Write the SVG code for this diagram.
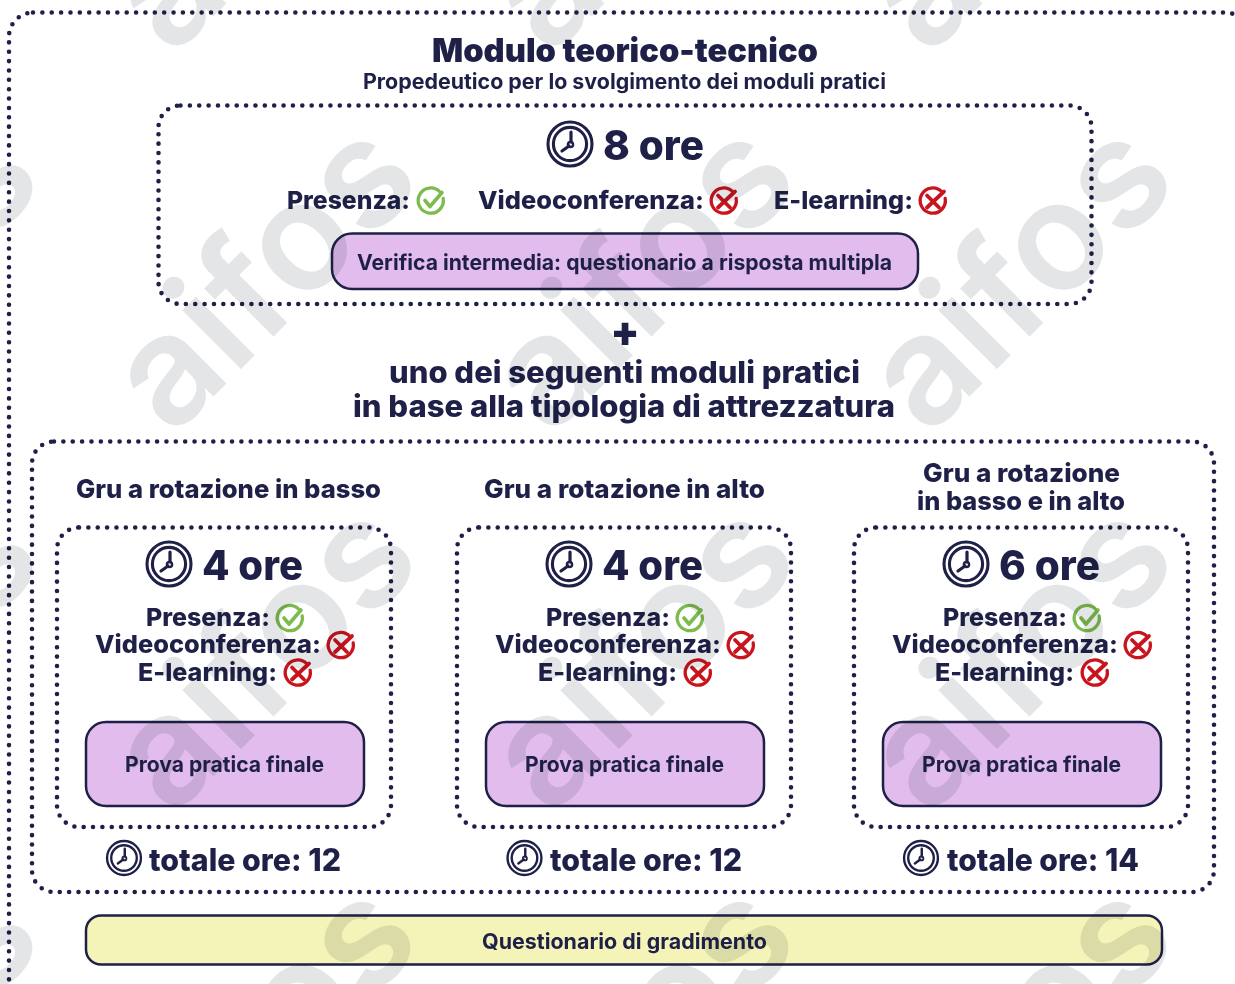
<svg xmlns="http://www.w3.org/2000/svg" width="1235" height="984" viewBox="0 0 1235 984">
<style>
text{font-family:"Inter","Liberation Sans",sans-serif;font-weight:800;fill:#1e2048}
.wm{font-size:152px;font-weight:600;fill:#e4e5e7;mix-blend-mode:multiply}
.dot{fill:none;stroke:#1e2048;stroke-width:4.6;stroke-linecap:round;stroke-dasharray:0 9.37}
.pill{fill:#e1bcec;stroke:#1e2048;stroke-width:2.5}
.yel{fill:#f5f4b8;stroke:#1e2048;stroke-width:2.5}
.m{font-size:25px}.h{font-size:41px;font-weight:800}.t{font-size:21.5px;font-weight:700}.g{font-size:26px}.tot{font-size:31px;font-weight:800}.s{font-size:30px}
.ik{fill:none;stroke-linecap:round;stroke-linejoin:round}
</style>
<defs>
<g id="clock" class="ik" stroke="#1e2048"><circle r="22" stroke-width="3.1"/><circle r="16.6" stroke-width="3.1"/><path d="M1 -2V-12M-1 2L-8 7" stroke-width="3.2"/><circle cx="0.5" cy="0.500" r="2.600" stroke-width="2.4"/></g>
<g id="ok" class="ik" stroke="#7dbb4f"><path d="M9 -9.500A12.600 12.600 0 1 0 12.200 -3" stroke-width="3.300"/><path d="M-6 -1L-1 5L11 -9" stroke-width="3.600"/></g>
<g id="no" class="ik" stroke="#c9141e"><path d="M9 -9.500A12.600 12.600 0 1 0 12.200 -3" stroke-width="3.300"/><path d="M-6 -6L6 6M-6 6L11 -10" stroke-width="3.800"/></g>
<text id="mark" class="wm" transform="rotate(-45)">aifos</text>
</defs>
<rect width="1235" height="984" fill="#fff"/>
<g id="frames">
<rect id="outer" class="dot" x="9" y="12.500" width="1240" height="1000" rx="24"/>
</g>
<g id="n-teorico">
<text x="625" y="62" text-anchor="middle" font-size="33" style="font-weight:900" textLength="386" lengthAdjust="spacingAndGlyphs">Modulo teorico-tecnico</text>
<text x="624.500" y="89" text-anchor="middle" font-size="21" style="font-weight:700" textLength="523" lengthAdjust="spacingAndGlyphs">Propedeutico per lo svolgimento dei moduli pratici</text>
<rect class="dot" x="158.500" y="105.500" width="933" height="198.500" rx="22"/>
<use href="#clock" x="570" y="144"/>
<text class="h" x="603" y="159.500" textLength="101" lengthAdjust="spacingAndGlyphs">8 ore</text>
<text class="m" x="287" y="208.500" textLength="123" lengthAdjust="spacingAndGlyphs">Presenza:</text><use href="#ok" x="431" y="201.500"/>
<text class="m" x="478" y="208.500" textLength="226" lengthAdjust="spacingAndGlyphs">Videoconferenza:</text><use href="#no" x="724" y="201.500"/>
<text class="m" x="774" y="208.500" textLength="139" lengthAdjust="spacingAndGlyphs">E-learning:</text><use href="#no" x="933" y="201.500"/>
<rect class="pill" x="332" y="233.500" width="586" height="55.500" rx="20"/>
<text class="t" x="357" y="270" textLength="535" lengthAdjust="spacingAndGlyphs">Verifica intermedia: questionario a risposta multipla</text>
</g>
<g id="n-plus">
<text x="625" y="346" text-anchor="middle" font-size="42" style="font-weight:900">+</text>
<text class="s" x="389" y="383" textLength="471" lengthAdjust="spacingAndGlyphs">uno dei seguenti moduli pratici</text>
<text class="s" x="353" y="417" textLength="542" lengthAdjust="spacingAndGlyphs">in base alla tipologia di attrezzatura</text>
</g>
<rect id="n-pratici" class="dot" x="32" y="441.500" width="1182" height="450.500" rx="22"/>
<g id="n-basso">
<text class="g" x="76" y="498" textLength="305" lengthAdjust="spacingAndGlyphs">Gru a rotazione in basso</text>
<rect class="dot" x="57" y="527.500" width="334" height="299.500" rx="22"/>
<use href="#clock" x="169" y="564"/>
<text class="h" x="202" y="580" textLength="101" lengthAdjust="spacingAndGlyphs">4 ore</text>
<text class="m" x="146" y="626" textLength="124" lengthAdjust="spacingAndGlyphs">Presenza:</text><use href="#ok" x="290" y="619"/>
<text class="m" x="95" y="653" textLength="226" lengthAdjust="spacingAndGlyphs">Videoconferenza:</text><use href="#no" x="341" y="646"/>
<text class="m" x="138" y="681" textLength="139" lengthAdjust="spacingAndGlyphs">E-learning:</text><use href="#no" x="298" y="673.500"/>
<rect class="pill" x="86" y="722" width="278" height="84" rx="20"/>
<text class="t" x="125" y="772" textLength="199" lengthAdjust="spacingAndGlyphs">Prova pratica finale</text>
<use href="#clock" transform="translate(124 858) scale(.77)"/>
<text class="tot" x="149" y="871" textLength="192" lengthAdjust="spacingAndGlyphs">totale ore: 12</text>
</g>
<g id="n-alto">
<text class="g" x="484" y="498" textLength="281" lengthAdjust="spacingAndGlyphs">Gru a rotazione in alto</text>
<rect class="dot" x="457" y="527.500" width="334" height="299.500" rx="22"/>
<use href="#clock" x="569" y="564"/>
<text class="h" x="602" y="580" textLength="101" lengthAdjust="spacingAndGlyphs">4 ore</text>
<text class="m" x="546" y="626" textLength="124" lengthAdjust="spacingAndGlyphs">Presenza:</text><use href="#ok" x="690" y="619"/>
<text class="m" x="495" y="653" textLength="226" lengthAdjust="spacingAndGlyphs">Videoconferenza:</text><use href="#no" x="741" y="646"/>
<text class="m" x="538" y="681" textLength="139" lengthAdjust="spacingAndGlyphs">E-learning:</text><use href="#no" x="698" y="673.500"/>
<rect class="pill" x="486" y="722" width="278" height="84" rx="20"/>
<text class="t" x="525" y="772" textLength="199" lengthAdjust="spacingAndGlyphs">Prova pratica finale</text>
<use href="#clock" transform="translate(524.500 858) scale(.77)"/>
<text class="tot" x="550" y="871" textLength="192" lengthAdjust="spacingAndGlyphs">totale ore: 12</text>
</g>
<g id="n-misto">
<text class="g" x="923" y="482" textLength="197" lengthAdjust="spacingAndGlyphs">Gru a rotazione</text>
<text class="g" x="917" y="510" textLength="208" lengthAdjust="spacingAndGlyphs">in basso e in alto</text>
<rect class="dot" x="854" y="527.500" width="334" height="299.500" rx="22"/>
<use href="#clock" x="966" y="564"/>
<text class="h" x="999" y="580" textLength="101" lengthAdjust="spacingAndGlyphs">6 ore</text>
<text class="m" x="943" y="626" textLength="124" lengthAdjust="spacingAndGlyphs">Presenza:</text><use href="#ok" x="1087" y="619"/>
<text class="m" x="892" y="653" textLength="226" lengthAdjust="spacingAndGlyphs">Videoconferenza:</text><use href="#no" x="1138" y="646"/>
<text class="m" x="935" y="681" textLength="139" lengthAdjust="spacingAndGlyphs">E-learning:</text><use href="#no" x="1095" y="673.500"/>
<rect class="pill" x="883" y="722" width="278" height="84" rx="20"/>
<text class="t" x="922" y="772" textLength="199" lengthAdjust="spacingAndGlyphs">Prova pratica finale</text>
<use href="#clock" transform="translate(921 858) scale(.77)"/>
<text class="tot" x="947" y="871" textLength="192" lengthAdjust="spacingAndGlyphs">totale ore: 14</text>
</g>
<g id="n-gradimento">
<rect class="yel" x="86" y="915.500" width="1076" height="49" rx="15"/>
<text class="t" x="482" y="949" textLength="285" lengthAdjust="spacingAndGlyphs">Questionario di gradimento</text>
</g>
<g id="watermark">
<use href="#mark" x="172" y="438"/><use href="#mark" x="550" y="438"/><use href="#mark" x="928" y="438"/>
<use href="#mark" x="172" y="58"/><use href="#mark" x="550" y="58"/><use href="#mark" x="928" y="58"/>
<use href="#mark" x="-206" y="438"/><use href="#mark" x="-206" y="58"/>
<use href="#mark" x="172" y="818"/><use href="#mark" x="550" y="818"/><use href="#mark" x="928" y="818"/><use href="#mark" x="-206" y="818"/>
<use href="#mark" x="172" y="1198"/><use href="#mark" x="550" y="1198"/><use href="#mark" x="928" y="1198"/><use href="#mark" x="-206" y="1198"/>
</g>
</svg>
